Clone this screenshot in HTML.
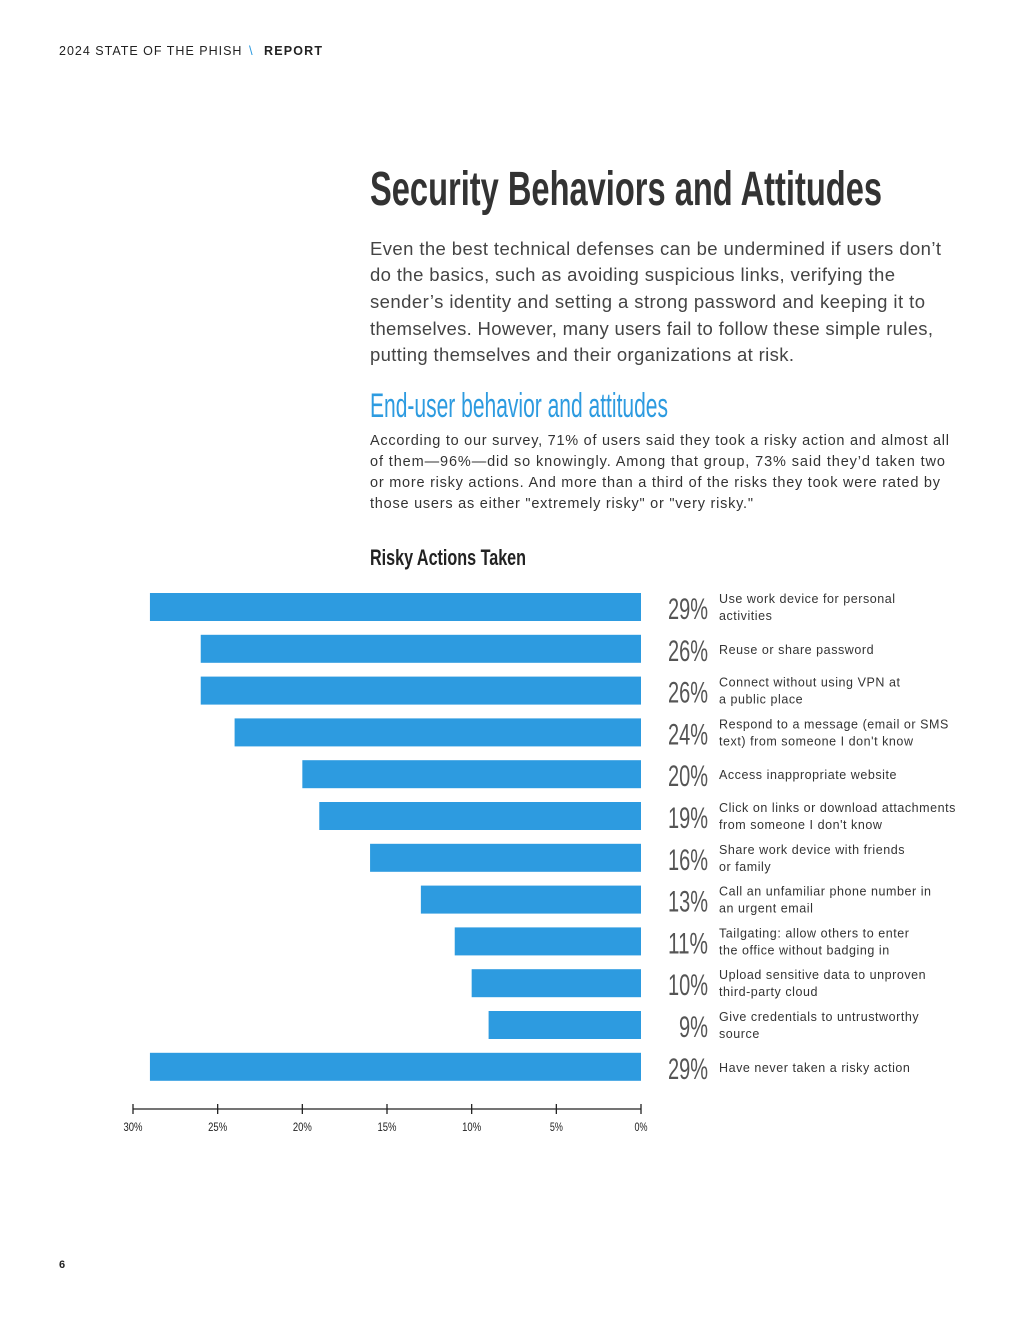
<!DOCTYPE html>
<html><head><meta charset="utf-8"><style>
html,body{margin:0;padding:0;background:#fff;}
svg{display:block;font-family:"Liberation Sans",sans-serif;}
</style></head><body>
<svg width="1020" height="1320" viewBox="0 0 1020 1320">
<text x="59" y="55" font-size="12.5" fill="#222" letter-spacing="1">2024 STATE OF THE PHISH</text>
<text x="249" y="55" font-size="13" fill="#2d9be0">\</text>
<text x="264" y="55" font-size="12.5" font-weight="bold" fill="#222" letter-spacing="1" textLength="59">REPORT</text>

<text x="370" y="205" font-size="48" font-weight="bold" fill="#333" textLength="512" lengthAdjust="spacingAndGlyphs">Security Behaviors and Attitudes</text>

<g font-size="18.5" fill="#444">
<text x="370" y="255" textLength="571">Even the best technical defenses can be undermined if users don’t</text>
<text x="370" y="281" textLength="525">do the basics, such as avoiding suspicious links, verifying the</text>
<text x="370" y="308" textLength="555">sender’s identity and setting a strong password and keeping it to</text>
<text x="370" y="335" textLength="563">themselves. However, many users fail to follow these simple rules,</text>
<text x="370" y="361" textLength="424">putting themselves and their organizations at risk.</text>
</g>

<text x="370" y="417" font-size="34" fill="#2d9be0" textLength="298" lengthAdjust="spacingAndGlyphs">End-user behavior and attitudes</text>

<g font-size="14.5" fill="#333">
<text x="370" y="445" textLength="579">According to our survey, 71% of users said they took a risky action and almost all</text>
<text x="370" y="466" textLength="575">of them—96%—did so knowingly. Among that group, 73% said they’d taken two</text>
<text x="370" y="487" textLength="570">or more risky actions. And more than a third of the risks they took were rated by</text>
<text x="370" y="508" textLength="383">those users as either "extremely risky" or "very risky."</text>
</g>

<text x="370" y="565" font-size="22" font-weight="bold" fill="#222" textLength="156" lengthAdjust="spacingAndGlyphs">Risky Actions Taken</text>

<g id="chart"></g>

<text x="59" y="1268" font-size="11" font-weight="bold" fill="#222">6</text>
</svg>
<script>
const values = [29, 26, 26, 24, 20, 19, 16, 13, 11, 10, 9, 29];
const valueLabels = ["29%","26%","26%","24%","20%","19%","16%","13%","11%","10%","9%","29%"];
const categories = [
 ["Use work device for personal","activities"],
 ["Reuse or share password"],
 ["Connect without using VPN at","a public place"],
 ["Respond to a message (email or SMS","text) from someone I don't know"],
 ["Access inappropriate website"],
 ["Click on links or download attachments","from someone I don't know"],
 ["Share work device with friends","or family"],
 ["Call an unfamiliar phone number in","an urgent email"],
 ["Tailgating: allow others to enter","the office without badging in"],
 ["Upload sensitive data to unproven","third-party cloud"],
 ["Give credentials to untrustworthy","source"],
 ["Have never taken a risky action"]
];
const ticks = [30, 25, 20, 15, 10, 5, 0];
const tickLabels = ["30%","25%","20%","15%","10%","5%","0%"];

const NS = "http://www.w3.org/2000/svg";
const g = document.getElementById('chart');
const x = v => 641 - v * (641 - 133) / 30;
const y = i => 607 + i * 41.8;
function mk(tag, attrs, parent){const e=document.createElementNS(NS,tag);for(const k in attrs)e.setAttribute(k,attrs[k]);(parent||g).appendChild(e);return e;}

values.forEach((v,i)=>{
  const r = mk('rect',{x:x(v),y:y(i)-14,width:x(0)-x(v),height:28,fill:'#2d9be0'});
  
  
  const t = mk('text',{x:708,y:y(i)+12,'font-size':30,fill:'#555','text-anchor':'end',textLength:valueLabels[i].length===3?40:29,lengthAdjust:'spacingAndGlyphs'});
  t.textContent = valueLabels[i];
  
  
  const lines = categories[i];
  lines.forEach((ln,j)=>{
    const c = mk('text',{x:719,y:(lines.length===1? y(i)+5 : y(i)-4+j*17),'font-size':12.5,fill:'#333','letter-spacing':0.55});
    c.textContent = ln;
    
    
  });
});

const axis = mk('line',{x1:x(30),x2:x(0),y1:1109,y2:1109,stroke:'#222','stroke-width':1.3});


ticks.forEach((tv,i)=>{
  const tk = mk('line',{x1:x(tv),x2:x(tv),y1:1104,y2:1114,stroke:'#222','stroke-width':1.3});
  
  
  const tl = mk('text',{x:x(tv),y:1131,'font-size':12,fill:'#222','text-anchor':'middle',textLength:tickLabels[i].length===3?19:13,lengthAdjust:'spacingAndGlyphs'});
  tl.textContent = tickLabels[i];
  
  
});
</script>
</body></html>
